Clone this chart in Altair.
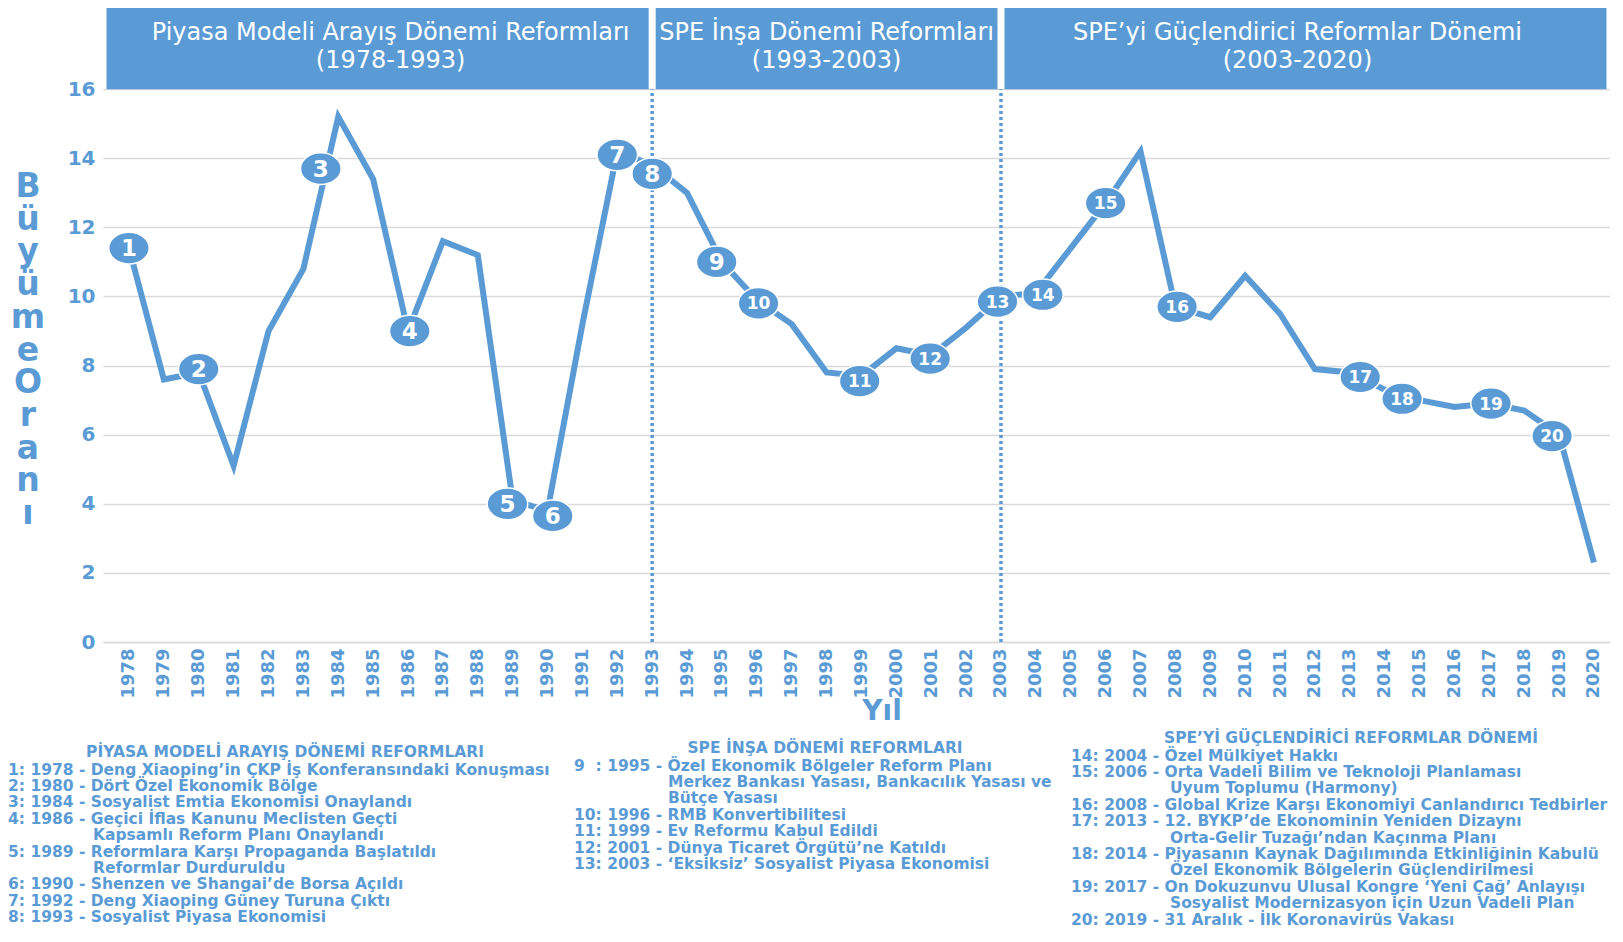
import altair as alt
import pandas as pd

# ---------------- data ----------------
years = list(range(1978, 2021))
growth = [11.4, 7.6, 7.8, 5.1, 9.0, 10.8, 15.2, 13.4, 9.0, 11.6, 11.2, 4.1, 3.8, 9.2, 14.2,
          13.8, 13.0, 11.0, 9.9, 9.2, 7.8, 7.7, 8.5, 8.3, 9.1, 10.0,
          10.1, 11.4, 12.7, 14.2, 9.7, 9.4, 10.6, 9.5, 7.9, 7.8, 7.3, 7.0, 6.8, 6.9, 6.7, 6.0, 2.3]

marker_labels = [str(i) for i in range(1, 21)]
marker_x = [1978.0, 1980.0, 1983.5, 1986.05, 1988.85, 1990.15, 1992.0, 1993.0, 1994.85, 1996.05,
            1998.95, 2000.97, 2002.9, 2004.2, 2006.0, 2008.05, 2013.3, 2014.5, 2017.05, 2018.8]
marker_y = [11.4, 7.9, 13.7, 9.0, 4.0, 3.65, 14.1, 13.55, 11.0, 9.8,
            7.55, 8.2, 9.85, 10.05, 12.7, 9.7, 7.67, 7.04, 6.9, 5.96]

period_titles = ["Piyasa Modeli Arayış Dönemi Reformları",
                 "SPE İnşa Dönemi Reformları",
                 "SPE’yi Güçlendirici Reformlar Dönemi"]
period_ranges = ["(1978-1993)", "(1993-2003)", "(2003-2020)"]
period_start = [1978, 1993, 2003]
period_end = [1993, 2003, 2020]
boundary_years = [1993, 2003]

y_ticks = [0, 2, 4, 6, 8, 10, 12, 14, 16]
y_title = "BüyümeOranı"
x_title = "Yıl"

legend_titles = ["PİYASA MODELİ ARAYIŞ DÖNEMİ REFORMLARI",
                 "SPE İNŞA DÖNEMİ REFORMLARI",
                 "SPE’Yİ GÜÇLENDİRİCİ REFORMLAR DÖNEMİ"]
legend_col1 = [
    ["1: 1978 - Deng Xiaoping’in ÇKP İş Konferansındaki Konuşması"],
    ["2: 1980 - Dört Özel Ekonomik Bölge"],
    ["3: 1984 - Sosyalist Emtia Ekonomisi Onaylandı"],
    ["4: 1986 - Geçici İflas Kanunu Meclisten Geçti", "Kapsamlı Reform Planı Onaylandı"],
    ["5: 1989 - Reformlara Karşı Propaganda Başlatıldı", "Reformlar Durduruldu"],
    ["6: 1990 - Shenzen ve Shangai’de Borsa Açıldı"],
    ["7: 1992 - Deng Xiaoping Güney Turuna Çıktı"],
    ["8: 1993 - Sosyalist Piyasa Ekonomisi"],
]
legend_col2 = [
    ["9 \u00a0: 1995 - Özel Ekonomik Bölgeler Reform Planı",
     "Merkez Bankası Yasası, Bankacılık Yasası ve", "Bütçe Yasası"],
    ["10: 1996 - RMB Konvertibilitesi"],
    ["11: 1999 - Ev Reformu Kabul Edildi"],
    ["12: 2001 - Dünya Ticaret Örgütü’ne Katıldı"],
    ["13: 2003 - ‘Eksiksiz’ Sosyalist Piyasa Ekonomisi"],
]
legend_col3 = [
    ["14: 2004 - Özel Mülkiyet Hakkı"],
    ["15: 2006 - Orta Vadeli Bilim ve Teknoloji Planlaması", "Uyum Toplumu (Harmony)"],
    ["16: 2008 - Global Krize Karşı Ekonomiyi Canlandırıcı Tedbirler"],
    ["17: 2013 - 12. BYKP’de Ekonominin Yeniden Dizaynı", "Orta-Gelir Tuzağı’ndan Kaçınma Planı"],
    ["18: 2014 - Piyasanın Kaynak Dağılımında Etkinliğinin Kabulü",
     "Özel Ekonomik Bölgelerin Güçlendirilmesi"],
    ["19: 2017 - On Dokuzunvu Ulusal Kongre ‘Yeni Çağ’ Anlayışı",
     "Sosyalist Modernizasyon için Uzun Vadeli Plan"],
    ["20: 2019 - 31 Aralık - İlk Koronavirüs Vakası"],
]

# ---------------- layout / style ----------------
BLUE = "#5b9bd5"
GRID = "#d9d9d9"
FONT = "DejaVu Sans"
W, H = 1507, 634
X_LO, X_HI = 1977.255, 2020.46
Y_MAX = 18.35
ELLIPSE = "M-1,0A1,0.78,0,1,0,1,0A1,0.78,0,1,0,-1,0Z"
LEG_FS = 15.5

xs = alt.Scale(domain=[X_LO, X_HI], nice=False, zero=False)
ys = alt.Scale(domain=[0, Y_MAX], nice=False, zero=True)

X_AXIS = alt.Axis(values=years, format="d", labelAngle=270, labelFontSize=18,
                  labelFontWeight="bold", labelColor=BLUE, labelFont=FONT,
                  ticks=False, tickSize=0, labelPadding=6, domainColor=GRID,
                  domainWidth=1.5, grid=False, labelOverlap=False, labelFlush=False,
                  labelBound=False, title=None)
Y_AXIS = alt.Axis(values=y_ticks, labelFontSize=20, labelFontWeight="bold",
                  labelColor=BLUE, labelFont=FONT, ticks=False, tickSize=0,
                  labelPadding=8, domain=False, grid=True, gridColor=GRID,
                  gridWidth=1.3, labelOverlap=False, title=None)

series = pd.DataFrame({"year": years, "growth": growth})
markers = pd.DataFrame({"lab": marker_labels, "mx": marker_x, "my": marker_y})
bands = pd.DataFrame({
    "lo": [X_LO] + period_start[1:],
    "hi": period_end[:-1] + [X_HI],
    "mid": [(a + b) / 2 for a, b in zip(period_start, period_end)],
    "txt": [[t, r] for t, r in zip(period_titles, period_ranges)],
})
bounds = pd.DataFrame({"yr": boundary_years})

LEG = [
    dict(x=-95, ix=-10, cx=182, hy=744),
    dict(x=471, ix=565, cx=722, hy=740),
    dict(x=968, ix=1067, cx=1248, hy=730),
]
GAP, LH = 17.5, 16.4
head_rows, body_rows = [], []
for L, title, entries in zip(LEG, legend_titles, [legend_col1, legend_col2, legend_col3]):
    head_rows.append({"t": title, "px": L["cx"], "py": L["hy"]})
    k = 0
    for entry in entries:
        for j, line in enumerate(entry):
            body_rows.append({"t": line, "px": L["x"] if j == 0 else L["ix"],
                              "py": L["hy"] + GAP + k * LH})
            k += 1
leg_head = pd.DataFrame(head_rows)
leg_body = pd.DataFrame(body_rows)

# ---------------- layers ----------------
line = alt.Chart(series).mark_line(color=BLUE, strokeWidth=6, strokeJoin="miter").encode(
    x=alt.X("year:Q", scale=xs, axis=X_AXIS),
    y=alt.Y("growth:Q", scale=ys, axis=Y_AXIS),
)

header_rect = alt.Chart(bands).mark_rect(color=BLUE, xOffset=3.5, x2Offset=-3.5).encode(
    x=alt.X("lo:Q", scale=xs, axis=X_AXIS), x2="hi:Q",
    y=alt.datum(16, scale=ys, axis=Y_AXIS), y2=alt.datum(Y_MAX),
)

header_text = alt.Chart(bands).mark_text(
    color="white", font=FONT, fontSize=24, lineHeight=28, align="center", baseline="middle"
).encode(x=alt.X("mid:Q", scale=xs, axis=X_AXIS), y=alt.value(25), text="txt")

rules = alt.Chart(bounds).mark_rule(color=BLUE, strokeWidth=3.5, strokeDash=[3, 3]).encode(
    x=alt.X("yr:Q", scale=xs, axis=X_AXIS), y=alt.datum(0, scale=ys, axis=Y_AXIS),
    y2=alt.datum(16)
)

marker_pts = alt.Chart(markers).mark_point(
    shape=ELLIPSE, size=1650, filled=True, fill=BLUE, stroke="white", strokeWidth=1.5, opacity=1
).encode(x=alt.X("mx:Q", scale=xs, axis=X_AXIS), y=alt.Y("my:Q", scale=ys, axis=Y_AXIS))

marker_txt = alt.Chart(markers).mark_text(
    color="white", font=FONT, fontWeight="bold", align="center", baseline="middle", dy=1
).encode(
    x=alt.X("mx:Q", scale=xs, axis=X_AXIS), y=alt.Y("my:Q", scale=ys, axis=Y_AXIS),
    text="lab:N",
    size=alt.condition("length(datum.lab) > 1", alt.value(17), alt.value(23)),
)

ytitle = alt.Chart(pd.DataFrame({"t": [y_title]})).mark_text(
    text=list(y_title), font=FONT, fontSize=33, fontWeight="bold", lineHeight=32.7,
    align="center", baseline="middle", color=BLUE
).encode(x=alt.value(-75), y=alt.value(179))

xtitle = alt.Chart(pd.DataFrame({"t": [x_title]})).mark_text(
    font=FONT, fontSize=28, fontWeight="bold", align="center", baseline="middle", color=BLUE
).encode(x=alt.value(779), y=alt.value(704), text="t:N")

legend_head = alt.Chart(leg_head).mark_text(
    font=FONT, fontSize=LEG_FS, fontWeight="bold", align="center", baseline="middle", color=BLUE
).encode(x=alt.X("px:Q", scale=None, axis=None), y=alt.Y("py:Q", scale=None, axis=None), text="t:N")

legend_body = alt.Chart(leg_body).mark_text(
    font=FONT, fontSize=LEG_FS, fontWeight="bold", align="left", baseline="middle", color=BLUE
).encode(x=alt.X("px:Q", scale=None, axis=None), y=alt.Y("py:Q", scale=None, axis=None), text="t:N")

chart = alt.layer(
    line, header_rect, rules, marker_pts, marker_txt, header_text,
    ytitle, xtitle, legend_head, legend_body
).properties(width=W, height=H, padding=0, background="white").configure_view(
    stroke=None
).configure_axisX(labelOverlap=False)

chart.save("out.html", embed_options={"renderer": "svg", "actions": False})
